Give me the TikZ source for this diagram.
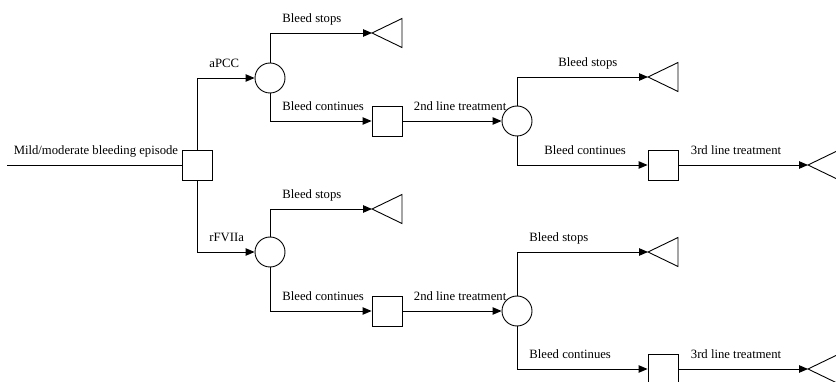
\documentclass[tikz,border=0pt]{standalone}
\usepackage{fontspec}
\setmainfont{Liberation Serif}
\usetikzlibrary{arrows.meta}
\begin{document}
\begin{tikzpicture}[x=1pt, y=-1pt, line width=0.9pt,
    font=\fontsize{12.7}{15}\selectfont,
    decision/.style={draw, rectangle, minimum size=30pt, inner sep=0pt},
    chance/.style={draw, circle, minimum size=30pt, inner sep=0pt},
    arr/.style={-{Triangle[length=9pt, width=7.5pt]}},
    lbl/.style={anchor=base west, inner sep=0pt, xshift=12pt, yshift=10pt}]
    \clip (0,0) rectangle (836,382);
    \useasboundingbox (0,0) rectangle (836,382);
    % root decision
    \coordinate (start) at (7,165);
    \node[decision] (d0) at (197,165) {};
    \draw (start) -- (d0.west)
        node[pos=1, anchor=base east, inner sep=0pt, xshift=-3pt, yshift=10pt] {Mild/moderate bleeding episode};
    % first line chance nodes
    \node[chance] (c1) at (270,78) {};
    \node[chance] (c1b) at (270,252) {};
    \draw[arr] (d0.north) |- (c1.west) node[pos=0.5, lbl] {aPCC};
    \draw[arr] (d0.south) |- (c1b.west) node[pos=0.5, lbl] {rFVIIa};
    % terminal points
    \foreach \name/\x/\y in {t1/372/33, t2/648/77, t3/808/165, t1b/372/209, t2b/648/252, t3b/808/369}{
        \coordinate (\name) at (\x,\y);
        \draw (\name) -- ++(30,-14.5) -- ++(0,29) -- cycle;
    }
    % second line decisions and chance nodes
    \node[decision] (d1) at (387,121) {};
    \node[chance] (c2) at (517,121) {};
    \node[decision] (d2) at (663,165) {};
    \node[decision] (d1b) at (387,311) {};
    \node[chance] (c2b) at (517,311) {};
    \node[decision] (d2b) at (663,369) {};
    % upper branch
    \draw[arr] (c1.north) |- (t1) node[pos=0.5, lbl] {Bleed stops};
    \draw[arr] (c1.south) |- (d1.west) node[pos=0.5, lbl] {Bleed continues};
    \draw[arr] (d1) -- (c2) node[pos=0, lbl, xshift=-1pt] {2nd line treatment};
    \draw[arr] (c2.north) |- (t2) node[pos=0.5, lbl, xshift=29pt] {Bleed stops};
    \draw[arr] (c2.south) |- (d2.west) node[pos=0.5, lbl, xshift=15pt] {Bleed continues};
    \draw[arr] (d2) -- (t3) node[pos=0, lbl] {3rd line treatment};
    % lower branch
    \draw[arr] (c1b.north) |- (t1b) node[pos=0.5, lbl] {Bleed stops};
    \draw[arr] (c1b.south) |- (d1b.west) node[pos=0.5, lbl] {Bleed continues};
    \draw[arr] (d1b) -- (c2b) node[pos=0, lbl, xshift=-1pt] {2nd line treatment};
    \draw[arr] (c2b.north) |- (t2b) node[pos=0.5, lbl] {Bleed stops};
    \draw[arr] (c2b.south) |- (d2b.west) node[pos=0.5, lbl] {Bleed continues};
    \draw[arr] (d2b) -- (t3b) node[pos=0, lbl] {3rd line treatment};
\end{tikzpicture}
\end{document}
